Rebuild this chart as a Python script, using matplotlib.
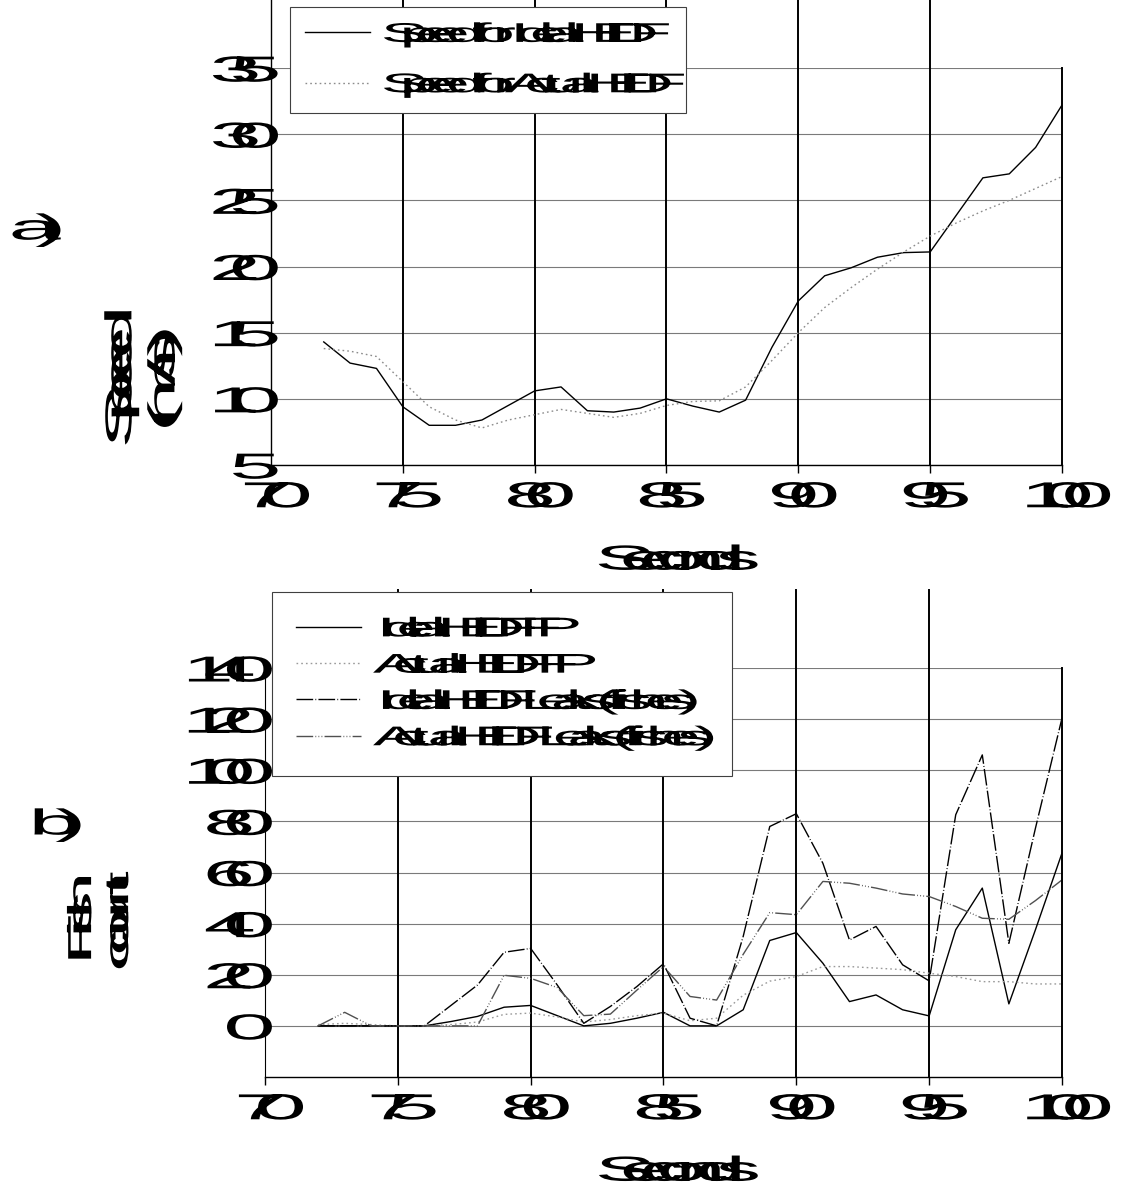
import matplotlib
matplotlib.use('Agg')
import matplotlib.pyplot as plt
import matplotlib.patheffects as pe
from matplotlib.path import Path
import numpy as np

plt.rcParams['font.family'] = ['Liberation Sans', 'DejaVu Sans']

# --- data -------------------------------------------------------------
seconds = list(range(72, 101))

speed_ideal = [14.3, 12.7, 12.3, 9.4, 8.0, 8.0, 8.4, 9.5, 10.6, 10.9,
               9.1, 9.0, 9.3, 10.0, 9.45, 9.0, 9.9, 13.9, 17.4, 19.3,
               19.9, 20.7, 21.05, 21.1, 23.9, 26.7, 27.0, 29.0, 32.2]
speed_actual = [13.8, 13.6, 13.2, 11.3, 9.4, 8.4, 7.8, 8.4, 8.8, 9.2,
                8.9, 8.6, 8.9, 9.5, 9.8, 9.85, 10.9, 12.9, 15.0, 16.9,
                18.4, 19.8, 21.1, 22.3, 23.3, 24.2, 25.0, 25.9, 26.8]

fp_ideal = [0, 0, 0, 0, 0, 1.7, 3.7, 7.3, 8.0, 4.0,
            0, 1.0, 3.0, 5.3, 0, 0, 6.3, 33.4, 36.5, 24.5,
            9.5, 12.1, 6.3, 3.9, 37.6, 53.9, 8.6, 37.6, 67.6]
fp_actual = [0.5, 1.0, 0.5, 0, 0, 0.5, 1.5, 4.5, 5.0, 3.5,
             1.5, 2.5, 4.0, 5.0, 2.0, 3.0, 12.0, 17.5, 19.3, 23.2,
             23.2, 22.6, 22.0, 20.6, 19.3, 17.3, 17.3, 16.4, 16.4]
lanes_ideal = [0, 0, 0, 0, 0, 8.0, 16.0, 28.8, 30.3, 16.0,
               1.0, 7.6, 15.4, 24.3, 3.0, 0, 35.0, 78.0, 83.0, 63.6,
               33.6, 38.9, 23.9, 17.6, 82.6, 106.0, 32.3, 77.3, 120.4]
lanes_actual = [0, 5.3, 0, 0, 0, 0, 0, 19.8, 18.6, 15.0,
                4.0, 4.6, 14.0, 23.2, 11.5, 10.1, 28.0, 44.3, 43.5, 56.5,
                55.8, 53.9, 51.6, 50.6, 46.7, 42.1, 41.7, 49.0, 57.1]

x_ticks = [70, 75, 80, 85, 90, 95, 100]
speed_ticks = [5, 10, 15, 20, 25, 30, 35]
count_ticks = [0, 20, 40, 60, 80, 100, 120, 140]

legend_a = ['Speed for Ideal HEDF', 'Speed for Actual HEDF']
legend_b = ['Ideal HEDF FP', 'Actual HEDF FP',
            'Ideal HEDF Leaks(fishes)', 'Actual HEDF Leaks(fishes)']


class WideGlyphs(pe.AbstractPathEffect):
    """Widen each glyph about its own anchor, keeping the normal advances."""

    def __init__(self, sx=2.6, frac=0.3):
        super().__init__()
        self.sx = sx
        self.frac = frac

    def draw_path(self, renderer, gc, tpath, affine, rgbFace=None):
        codes = tpath.codes
        if codes is None or len(codes) == 0:
            renderer.draw_path(gc, tpath, affine, rgbFace)
            return
        codes = np.asarray(codes)
        verts = np.array(tpath.vertices, dtype=float)
        starts = np.flatnonzero(codes == Path.MOVETO)
        if len(starts) == 0 or starts[0] != 0:
            starts = np.insert(starts, 0, 0)
        ends = np.append(starts[1:], len(codes))
        boxes = []
        for s, e in zip(starts, ends):
            seg = verts[s:e][codes[s:e] != Path.CLOSEPOLY]
            if len(seg) == 0:
                seg = verts[s:e]
            boxes.append((seg[:, 0].min(), seg[:, 0].max(),
                          seg[:, 1].min(), seg[:, 1].max()))
        for i, (s, e) in enumerate(zip(starts, ends)):
            x0, x1, y0, y1 = boxes[i]
            best = None
            # holes (inside of o, e, D ...) follow their outer contour
            for j, (a0, a1, b0, b1) in enumerate(boxes):
                if j != i and a0 <= x0 and a1 >= x1 and b0 <= y0 and b1 >= y1:
                    area = (a1 - a0) * (b1 - b0)
                    if best is None or area < best[0]:
                        best = (area, a0, a1)
            if best is not None:
                x0, x1 = best[1], best[2]
            anchor = x0 + self.frac * (x1 - x0)
            verts[s:e, 0] = anchor + self.sx * (verts[s:e, 0] - anchor)
        renderer.draw_path(gc, Path(verts, codes), affine, rgbFace)


wide = [WideGlyphs()]

W, H = 1135, 1186
fig = plt.figure(figsize=(W / 100, H / 100), dpi=100)
fig.patch.set_facecolor('white')


def px_axes(left, right, top, bottom):
    return fig.add_axes([left / W, 1 - bottom / H, (right - left) / W, (bottom - top) / H])


def frame(ax, ylim, yticks, ext, extend_left):
    ax.set_xlim(70, 100)
    ax.set_ylim(*ylim)
    ax.set_xticks(x_ticks)
    ax.set_yticks(yticks)
    ax.tick_params(axis='x', length=6, width=1.0, direction='out', pad=5, labelsize=26)
    ax.tick_params(axis='y', length=0, pad=8, labelsize=26)
    ax.grid(axis='y', color='#7a7a7a', lw=0.8)
    ax.set_axisbelow(True)
    for v in x_ticks[1:-1]:
        ax.axvline(v, ymin=0, ymax=ext, color='black', lw=1.4, clip_on=False, zorder=1)
    ax.spines['top'].set_visible(False)
    ax.spines['right'].set_linewidth(1.4)
    ax.spines['bottom'].set_linewidth(1.0)
    if extend_left:
        ax.spines['left'].set_visible(False)
        ax.axvline(70, ymin=0, ymax=ext, color='black', lw=1.0, clip_on=False, zorder=1)
    for lab in ax.get_xticklabels() + ax.get_yticklabels():
        lab.set_path_effects(wide)


# --- a) speed ---------------------------------------------------------
ax1 = px_axes(271, 1062, 68, 465)
frame(ax1, (5, 35), speed_ticks, 1 + 68 / 397, True)
ax1.plot(seconds, speed_ideal, color='black', lw=1.0, label=legend_a[0])
ax1.plot(seconds, speed_actual, color='#8c8c8c', lw=1.0, ls=(0, (1.2, 2.2)), label=legend_a[1])
ax1.set_xlabel('Seconds', fontsize=25)
ax1.xaxis.set_label_coords(0.51, -0.198)
ax1.set_ylabel('Speed\n(m/s)', fontsize=27, linespacing=1.25)
ax1.yaxis.set_label_coords(-0.112, 0.21)
ax1.xaxis.label.set_path_effects(wide)
ax1.yaxis.label.set_path_effects(wide)
leg1 = ax1.legend(loc='upper left', bbox_to_anchor=(290 / W, 1 - 7 / H),
                  bbox_transform=fig.transFigure, fontsize=19.5, handlelength=2.4,
                  handletextpad=0.75, borderpad=0.55, labelspacing=0.9,
                  borderaxespad=0, fancybox=False, framealpha=1,
                  edgecolor='#404040')
leg1.get_frame().set_linewidth(0.8)
for t in leg1.get_texts():
    t.set_path_effects(wide)

# --- b) counts --------------------------------------------------------
ax2 = px_axes(265, 1062, 668, 1077)
frame(ax2, (-20, 140), count_ticks, 1 + 78 / 409, False)
ax2.plot(seconds, fp_ideal, color='black', lw=1.0, label=legend_b[0])
ax2.plot(seconds, fp_actual, color='#9a9a9a', lw=1.0, ls=(0, (1.2, 2.2)), label=legend_b[1])
ax2.plot(seconds, lanes_ideal, color='black', lw=1.0, ls=(0, (12, 1.6, 0.6, 1.6)), label=legend_b[2])
ax2.plot(seconds, lanes_actual, color='#505050', lw=1.0,
         ls=(0, (12, 1.6, 0.6, 1.6, 0.6, 1.6, 0.6, 1.6)), label=legend_b[3])
ax2.set_xlabel('Seconds', fontsize=25)
ax2.xaxis.set_label_coords(0.514, -0.19)
ax2.set_ylabel('Fish\ncount', fontsize=24, linespacing=1.25)
ax2.yaxis.set_label_coords(-0.163, 0.379)
ax2.xaxis.label.set_path_effects(wide)
ax2.yaxis.label.set_path_effects(wide)
leg2 = ax2.legend(loc='upper left', bbox_to_anchor=(272 / W, 1 - 592 / H),
                  bbox_transform=fig.transFigure, fontsize=19.5, handlelength=2.4,
                  handletextpad=0.75, borderpad=0.9, labelspacing=0.38,
                  borderaxespad=0, fancybox=False, framealpha=1,
                  edgecolor='#404040')
leg2.get_frame().set_linewidth(0.8)
for t in leg2.get_texts():
    t.set_path_effects(wide)

# panel tags
fig.text(36 / W, 1 - 230 / H, 'a)', fontsize=26, ha='center', va='center', path_effects=wide)
fig.text(56 / W, 1 - 825 / H, 'b)', fontsize=26, ha='center', va='center', path_effects=wide)

fig.savefig('out.png', dpi=100)
